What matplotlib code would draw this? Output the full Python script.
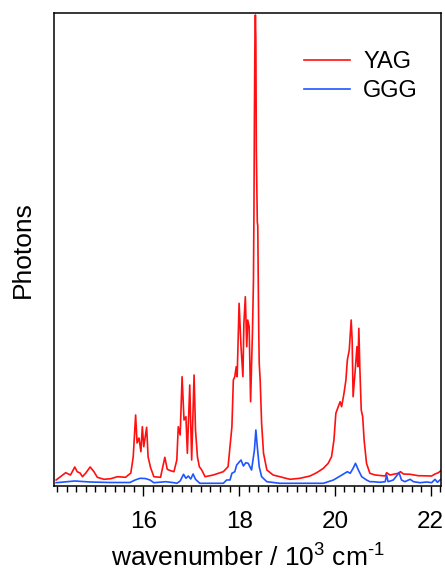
"""
Emission spectra of the doped YAG and GGG crystals, photon counts
versus wavenumber (arb. units).
"""
import matplotlib
matplotlib.use('Agg')
import matplotlib.pyplot as plt
from matplotlib.ticker import MultipleLocator

plt.rcParams['font.family'] = ['Liberation Sans', 'DejaVu Sans']
plt.rcParams['mathtext.default'] = 'regular'

# wavenumber in 10^3 cm^-1, photons in arbitrary units
yag_x = [14.18, 14.38, 14.48, 14.57, 14.62, 14.68, 14.73, 14.80, 14.89, 14.97,
         15.04, 15.18, 15.32, 15.46, 15.63, 15.74, 15.79, 15.84, 15.87, 15.91,
         15.95, 15.98, 16.01, 16.07, 16.10, 16.15, 16.22, 16.36, 16.45, 16.50,
         16.57, 16.64, 16.70, 16.73, 16.77, 16.81, 16.85, 16.89, 16.92, 16.97,
         17.01, 17.06, 17.09, 17.13, 17.17, 17.22, 17.29, 17.46, 17.67, 17.77,
         17.85, 17.88, 17.91, 17.94, 17.96, 18.00, 18.04, 18.08, 18.10, 18.13,
         18.16, 18.18, 18.21, 18.24, 18.28, 18.30, 18.31, 18.32, 18.33, 18.34,
         18.35, 18.36, 18.38, 18.39, 18.40, 18.41, 18.42, 18.44, 18.47, 18.51,
         18.58, 18.71, 18.85, 19.06, 19.27, 19.48, 19.62, 19.76, 19.86, 19.93,
         19.98, 20.02, 20.07, 20.11, 20.14, 20.19, 20.23, 20.26, 20.30, 20.34,
         20.36, 20.38, 20.43, 20.46, 20.48, 20.50, 20.52, 20.55, 20.58, 20.61,
         20.66, 20.73, 20.84, 21.05, 21.08, 21.15, 21.32, 21.37, 21.43, 21.57,
         21.74, 22.02, 22.09, 22.16, 22.21]
yag_y = [6, 13.3, 11, 19, 14.3, 13, 9.3, 13, 19, 14.3,
         8.7, 6.7, 7.3, 9.3, 8.7, 13, 29.3, 71, 43, 48,
         34.3, 59.3, 39.3, 58.7, 29.3, 18.7, 9.3, 8.7, 28.7, 16.7,
         15.3, 14.3, 26, 59.3, 51, 109.3, 66, 69.3, 32.7, 101,
         26, 111, 56, 29.3, 19.3, 16, 9.3, 11, 14.3, 19.3,
         59.3, 106, 109.3, 119.3, 109.3, 182.7, 139.3, 109.3, 162.7, 189.3,
         139.3, 166, 159.3, 84.3, 156, 206, 274, 370, 443, 471,
         446, 336, 264, 260, 206, 156, 123, 106, 62.7, 32.7,
         16, 11, 9.3, 6.7, 7.7, 10, 13.3, 17.7, 22.7, 29.3,
         46, 72.7, 79.3, 84.3, 79.3, 92.7, 106, 126, 136, 166,
         146, 89.3, 119.3, 139.3, 119.3, 157.7, 119.3, 76, 69.3, 46,
         22.7, 12.7, 11, 10, 13.3, 11, 12.7, 14.3, 12, 11.7,
         10.3, 10, 12, 13.3, 15.3]

ggg_x = [14.18, 14.57, 14.89, 15.30, 15.72, 15.83, 15.93, 16.04, 16.14, 16.22,
         16.47, 16.64, 16.70, 16.77, 16.84, 16.89, 16.94, 16.99, 17.04, 17.09,
         17.18, 17.39, 17.67, 17.74, 17.81, 17.85, 17.91, 17.95, 18.04, 18.09,
         18.14, 18.19, 18.26, 18.32, 18.35, 18.38, 18.42, 18.47, 18.58, 18.85,
         19.06, 19.76, 19.97, 20.18, 20.26, 20.32, 20.38, 20.43, 20.49, 20.56,
         20.66, 20.73, 20.80, 20.94, 21.05, 21.08, 21.11, 21.22, 21.34, 21.39,
         21.46, 21.57, 21.64, 21.78, 21.92, 22.02, 22.09, 22.14, 22.21]
ggg_y = [3.3, 5, 4, 3.5, 3.5, 6, 7.7, 7.5, 6, 3.3,
         4.3, 3.3, 2.7, 5, 11.7, 7.7, 10, 7, 12, 6.7,
         2.7, 2.7, 2.7, 6, 6, 12.7, 14.3, 21, 26, 20,
         23.3, 22.7, 16, 36, 56, 39.3, 19.3, 9.3, 4.3, 2.7,
         2.7, 2.7, 6, 12, 14.3, 12.7, 17.7, 22.7, 16, 9.3,
         6, 4.3, 4.3, 3.7, 4.3, 11, 4.3, 6, 13.3, 6,
         4.3, 6.7, 4.3, 3.3, 4, 3.3, 6.7, 3.7, 6.7]

fig = plt.figure(figsize=(4.45, 5.74), dpi=100)
ax = fig.add_axes([54 / 445, 88 / 574, 387 / 445, 473 / 574])

ax.plot(yag_x, yag_y, color='#ff1010', lw=1.2, label='YAG')
ax.plot(ggg_x, ggg_y, color='#1f55ff', lw=1.2, label='GGG')

ax.set_xlim(14.136, 22.215)
ax.set_ylim(0, 473)

ax.xaxis.set_major_locator(MultipleLocator(2))
ax.xaxis.set_minor_locator(MultipleLocator(0.2))
ax.tick_params(axis='x', which='major', direction='out', length=7, width=1,
               labelsize=17.5, pad=11)
ax.tick_params(axis='x', which='minor', direction='out', length=4, width=1)
ax.set_yticks([])
for s in ax.spines.values():
    s.set_linewidth(1.1)

ax.set_xlabel('wavenumber / 10$^{3}$ cm$^{\u20101}$', fontsize=19, labelpad=8)
ax.set_ylabel('Photons', fontsize=19, labelpad=14)

ax.legend(loc='upper right', bbox_to_anchor=(1.02, 0.985), frameon=False,
          fontsize=17, handlelength=1.95, handletextpad=0.55,
          labelspacing=0.3, borderaxespad=0.9)

fig.savefig('out.png', dpi=100)
